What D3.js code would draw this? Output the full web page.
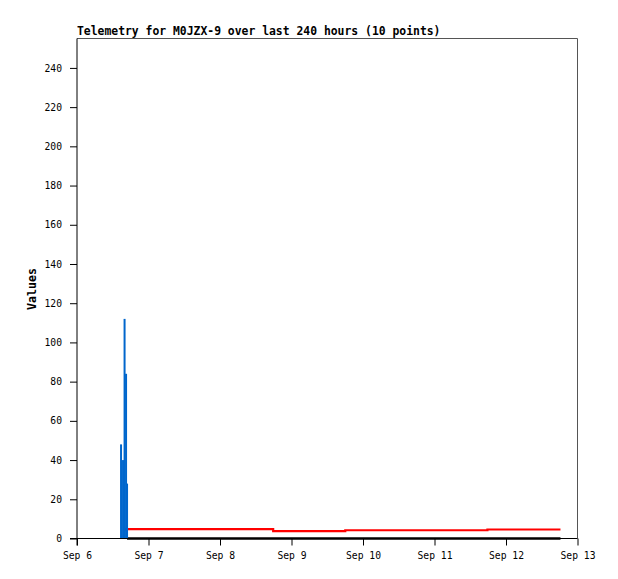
<!DOCTYPE html>
<html><head><meta charset="utf-8">
<script src="https://cdn.jsdelivr.net/npm/d3@7/dist/d3.min.js"></script>
<style>body{margin:0;background:#fff}svg{display:block}</style>
</head><body><svg id="c" width="618" height="579"></svg>
<script>
const titleText = "Telemetry for M0JZX-9 over last 240 hours (10 points)";
const yLabel = "Values";
const xTickLabels = ["Sep 6","Sep 7","Sep 8","Sep 9","Sep 10","Sep 11","Sep 12","Sep 13"];
const yTicks = [0,20,40,60,80,100,120,140,160,180,200,220,240];
// blue series (impulses)
const blueTimes = ["2024-09-06T14:47","2024-09-06T15:27","2024-09-06T15:58","2024-09-06T16:28","2024-09-06T16:48"];
const blueValues = [48, 40, 112, 84, 28];
// red series (steps)
const redTimes = ["2024-09-06T15:27","2024-09-06T16:28","2024-09-08T17:51","2024-09-09T18:03","2024-09-11T17:46","2024-09-12T18:17"];
const redValues = [4.2, 4.8, 3.8, 4.2, 4.6, 4.6];
// black series (steps)
const blackTimes = ["2024-09-06T16:48","2024-09-12T18:17"];
const blackValues = [0, 0];

const parse = d3.timeParse("%Y-%m-%dT%H:%M");
const svg = d3.select("#c");
const L=77, R=577.5, T=38.5, B=538.5;
const x = d3.scaleTime().domain([parse("2024-09-06T00:00"), parse("2024-09-13T00:00")]).range([L,R]);
const y = d3.scaleLinear().domain([0,255]).range([B,T]);

// frame
svg.append("path").attr("d",`M${L},${T}H${R}V${B}`).attr("fill","none").attr("stroke","#555").attr("stroke-width",1);

// data
const line = d3.line().x(d=>x(d[0])).y(d=>y(d[1])).curve(d3.curveStepAfter);
svg.append("path").datum(redTimes.map((t,i)=>[parse(t),redValues[i]]))
  .attr("d",line).attr("fill","none").attr("stroke","#ff0000").attr("stroke-width",2.2);
svg.append("path").datum(blackTimes.map((t,i)=>[parse(t),blackValues[i]]))
  .attr("d",line).attr("fill","none").attr("stroke","#000").attr("stroke-width",2.5);
svg.selectAll("line.blue").data(blueTimes.map((t,i)=>[parse(t),blueValues[i]])).enter()
  .append("line").attr("class","blue")
  .attr("x1",d=>x(d[0])).attr("x2",d=>x(d[0]))
  .attr("y1",y(0)).attr("y2",d=>y(d[1]))
  .attr("stroke","#0066cc").attr("stroke-width",2);

// axes
const xa = d3.axisBottom(x).tickValues(d3.range(8).map(i=>d3.timeDay.offset(parse("2024-09-06T00:00"),i)))
  .tickFormat((d,i)=>xTickLabels[i]).tickSizeOuter(0).tickSize(7).tickPadding(4);
const gx = svg.append("g").attr("transform",`translate(0,${B})`).call(xa);
const ya = d3.axisLeft(y).tickValues(yTicks).tickSizeOuter(0).tickSize(7).tickPadding(8);
const gy = svg.append("g").attr("transform",`translate(${L},0)`).call(ya);
[gx,gy].forEach(g=>{
  g.selectAll("text").attr("font-family","DejaVu Sans Mono").attr("font-size","9.7px").attr("fill","#000");
  g.selectAll("line,path").attr("stroke","#000");
});
gy.select("path.domain").attr("d",`M0,${T}V${B+7}`);
gx.select("path.domain").attr("d",`M${L-7},0H${R}`);
gx.selectAll("text").attr("dy","0.95em");

svg.append("text").attr("x",L).attr("y",35).text(titleText)
  .attr("font-family","DejaVu Sans Mono").attr("font-weight","bold").attr("font-size","11.4px");
svg.append("text").attr("transform",`translate(36,289) rotate(-90)`).attr("text-anchor","middle").text(yLabel)
  .attr("font-family","DejaVu Sans Mono").attr("font-weight","bold").attr("font-size","11.6px");
</script></body></html>
